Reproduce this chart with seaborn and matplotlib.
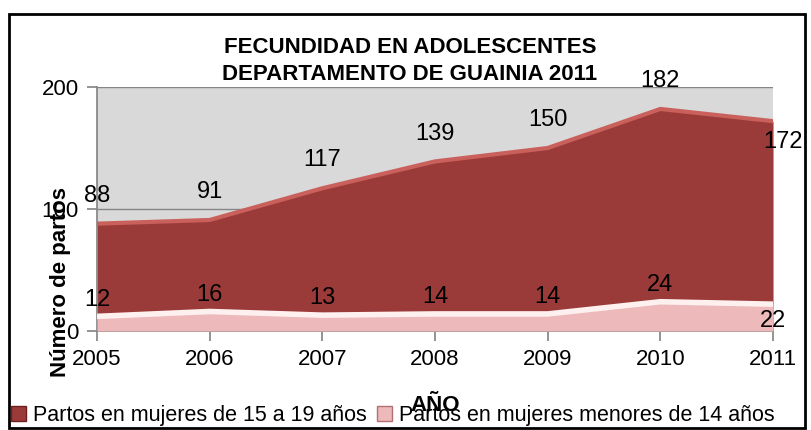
import matplotlib
matplotlib.use("Agg")
import matplotlib.pyplot as plt
import seaborn as sns
import pandas as pd
from matplotlib.patches import Patch, Rectangle

# data
YEARS = [2005, 2006, 2007, 2008, 2009, 2010, 2011]
PARTOS_15_19 = [88, 91, 117, 139, 150, 182, 172]
PARTOS_MENORES_14 = [12, 16, 13, 14, 14, 24, 22]
SERIES_LABELS = ["Partos en mujeres de 15 a 19 años", "Partos en mujeres menores de 14 años"]
TITLE = "FECUNDIDAD EN ADOLESCENTES\nDEPARTAMENTO DE GUAINIA 2011"
Y_TICKS = [0, 100, 200]

RED = "#9B3B39"
RED_EDGE = "#C9605C"
PINK = "#EDB9BA"
PINK_EDGE = "#FFF0F0"

sns.set_theme(style="white")
plt.rcParams["font.family"] = ["Liberation Sans", "DejaVu Sans"]
plt.rcParams["text.color"] = "black"
plt.rcParams["xtick.color"] = "black"
plt.rcParams["ytick.color"] = "black"
plt.rcParams["axes.labelcolor"] = "black"

df = pd.DataFrame({"year": YEARS, "a": PARTOS_15_19, "b": PARTOS_MENORES_14})

fig = plt.figure(figsize=(8.12, 4.3), dpi=100)
ax = fig.add_axes([0.1195, 0.2302, 0.8325, 0.5675])
ax.set_facecolor("#D9D9D9")

ax.fill_between(df["year"], 0, df["a"], color=RED, zorder=2, linewidth=0)
sns.lineplot(data=df, x="year", y="a", ax=ax, color=RED_EDGE, linewidth=3, zorder=3)
ax.fill_between(df["year"], 0, df["b"], color=PINK, zorder=4, linewidth=0)
sns.lineplot(data=df, x="year", y="b", ax=ax, color=PINK_EDGE, linewidth=4, zorder=5)

for x, v in zip(YEARS[:-1], PARTOS_15_19[:-1]):
    ax.annotate(str(v), (x, v), xytext=(0, 20), textcoords="offset points",
                ha="center", va="center", fontsize=17, zorder=6)
for x, v in zip(YEARS[:-1], PARTOS_MENORES_14[:-1]):
    ax.annotate(str(v), (x, v), xytext=(0, 12), textcoords="offset points",
                ha="center", va="center", fontsize=17, zorder=6)
ax.annotate(str(PARTOS_15_19[-1]), (YEARS[-1], PARTOS_15_19[-1]), xytext=(7, -15),
            textcoords="offset points", ha="center", va="center", fontsize=17, zorder=6,
            annotation_clip=False)
ax.annotate(str(PARTOS_MENORES_14[-1]), (YEARS[-1], PARTOS_MENORES_14[-1]), xytext=(0, -12),
            textcoords="offset points", ha="center", va="center", fontsize=17, zorder=6,
            annotation_clip=False)

ax.set_xlim(YEARS[0], YEARS[-1])
ax.set_ylim(0, 200)
ax.set_xticks(YEARS)
ax.set_yticks(Y_TICKS)
ax.tick_params(axis="both", labelsize=16, length=7, color="#868686", direction="out",
               bottom=True, left=True, pad=6)
ax.grid(axis="y", color="#868686", linewidth=1, zorder=1)
ax.set_axisbelow(True)
for side in ["top", "right"]:
    ax.spines[side].set_visible(False)
for side in ["left", "bottom"]:
    ax.spines[side].set_color("#868686")

ax.set_xlabel("AÑO", fontsize=16, fontweight="bold", labelpad=18)
ax.set_ylabel("Número de partos", fontsize=16, fontweight="bold")
ax.yaxis.set_label_coords(-0.038, 0.2)

fig.text(0.505, 0.858, TITLE, ha="center", va="center", fontsize=16, fontweight="bold",
         linespacing=1.4)

handles = [Patch(facecolor=RED, edgecolor="#6E2020"), Patch(facecolor=PINK, edgecolor="#B07070")]
fig.legend(handles, SERIES_LABELS, loc="lower left", bbox_to_anchor=(0.006, -0.005), ncol=2,
           frameon=False, fontsize=15.5, handlelength=0.7, handleheight=0.7, handletextpad=0.3,
           columnspacing=0.5, borderaxespad=0.1, borderpad=0.2)

fig.patches.append(Rectangle((0.011, 0.005), 0.98, 0.963, transform=fig.transFigure,
                             fill=False, edgecolor="black", linewidth=2))

fig.savefig("out.png", dpi=100)
